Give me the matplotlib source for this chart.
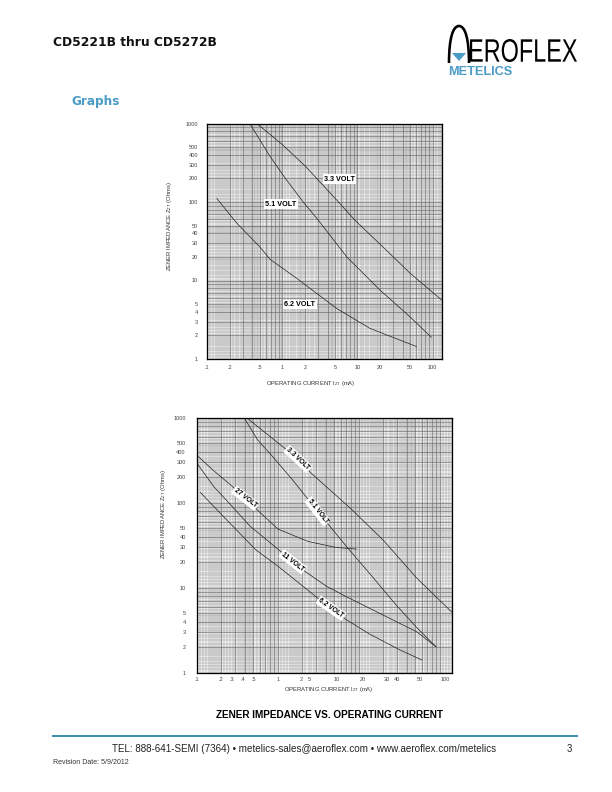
import numpy as np
import matplotlib
matplotlib.use("Agg")
import matplotlib.pyplot as plt
from matplotlib.path import Path
from matplotlib.patches import PathPatch, Polygon
from matplotlib.textpath import TextPath
from matplotlib.font_manager import FontProperties
from matplotlib.transforms import Affine2D
from matplotlib.ticker import NullLocator

# ---- data (current in mA, impedance in ohms) ----
# upper graph
top_33_i = [0.46, 1, 2, 5.6, 9.2, 24, 50, 133]
top_33_z = [1000, 540, 290, 100, 59, 24.5, 12.4, 5.6]
top_51_i = [0.37, 0.69, 1.1, 1.9, 3.0, 7.2, 19.8, 49.7, 96]
top_51_z = [1000, 380, 200, 100, 59, 20, 7.6, 3.46, 1.89]
top_62_i = [0.135, 0.248, 0.5, 0.69, 1.55, 5.3, 14.6, 61]
top_62_z = [111, 54, 27, 18.6, 10.7, 4.4, 2.46, 1.44]

# lower graph
bot_33_i = [0.414, 1.78, 2.58, 7.8, 20, 52, 140]
bot_33_z = [1000, 327, 223, 87, 36.4, 13, 5.2]
bot_51_i = [0.384, 0.566, 0.867, 1.53, 3.11, 6.97, 13.8, 28.8, 51, 90]
bot_51_z = [1000, 547, 348, 185, 79.3, 31, 14.5, 6.3, 3.47, 2.02]
bot_27_i = [0.1, 0.158, 0.254, 0.394, 0.593, 1.01, 2.37, 5.28, 9.33]
bot_27_z = [364, 243, 166, 115, 78, 48.9, 35, 29.7, 28.5]
bot_11_i = [0.1, 0.164, 0.251, 0.455, 1.04, 1.52, 2.23, 3.94, 6.97, 13.8, 27.3, 52, 90]
bot_11_z = [293, 153, 99, 53, 27.7, 19.8, 15.3, 10.5, 7.87, 5.69, 4.11, 3.03, 2.02]
bot_62_i = [0.111, 0.252, 0.539, 1.0, 2.97, 4.55, 6.97, 13.6, 32.4, 60.4]
bot_62_z = [132, 58.5, 27.8, 18, 7.83, 5.73, 4.23, 2.85, 1.85, 1.41]

# tick labels
y_ticks = [1, 2, 3, 4, 5, 10, 20, 30, 40, 50, 100, 200, 300, 400, 500, 1000]
y_labels = ["1", "2", "3", "4", "5", "10", "20", "30", "40", "50",
            "100", "200", "300", "400", "500", "1000"]
top_x_ticks = [0.1, 0.2, 0.5, 1, 2, 5, 10, 20, 50, 100]
top_x_labels = [".1", ".2", ".5", "1", "2", "5", "10", "20", "50", "100"]
# the lower graph paper is labelled oddly, labels sit where they are printed
bot_x_ticks = [0.1, 0.198, 0.27, 0.37, 0.506, 1.0, 1.94, 2.45, 5.35, 11.1, 22.5, 30, 57, 116]
bot_x_labels = [".1", ".2", ".3", ".4", ".5", "1", "2", "5", "10", "20", "30", "40", "50", "100"]

BLUE = "#4a9bc6"
FONT = "Liberation Sans"
W, H = 612, 792

fig = plt.figure(figsize=(W / 72, H / 72), dpi=72)

# page layer in pixel coordinates
page = fig.add_axes([0, 0, 1, 1], zorder=0)
page.set_xlim(0, W)
page.set_ylim(H, 0)
page.axis("off")


def ax_rect(x0, y0, x1, y1):
    return [x0 / W, 1 - y1 / H, (x1 - x0) / W, (y1 - y0) / H]


def paper_values(lo, hi):
    # log graph paper rulings
    minor, major = [], []
    for e in range(lo, hi):
        b = 10.0 ** e
        minor += list(b * np.arange(1, 2, 0.1)) + list(b * np.arange(2, 5, 0.2)) + list(b * np.arange(5, 10, 0.5))
        major += [b * m for m in range(1, 10)]
    return minor, major


def setup(ax, xmax, xticks, xlabels, ylab_pad, xlab_pad):
    ax.set_xscale("log")
    ax.set_yscale("log")
    ax.set_xlim(0.1, xmax)
    ax.set_ylim(1, 1000)
    ax.set_facecolor("#f3f3f3")
    mx, Mx = paper_values(-1, 3)
    my, My = paper_values(0, 3)
    mx = [v for v in mx if v <= xmax]
    Mx = [v for v in Mx if v <= xmax]
    ax.vlines(mx, 1, 1000, colors="#8f8f8f", lw=0.45, zorder=1)
    ax.hlines(my, 0.1, xmax, colors="#8f8f8f", lw=0.45, zorder=1)
    ax.vlines(Mx, 1, 1000, colors="#666666", lw=0.55, zorder=1)
    ax.hlines(My, 0.1, xmax, colors="#666666", lw=0.55, zorder=1)
    ax.set_xticks(xticks, xlabels)
    ax.set_yticks(y_ticks, y_labels)
    ax.xaxis.set_minor_locator(NullLocator())
    ax.yaxis.set_minor_locator(NullLocator())
    ax.tick_params(axis="y", length=0, pad=ylab_pad, labelsize=5.5, labelcolor="#444")
    ax.tick_params(axis="x", length=0, pad=xlab_pad, labelsize=5.5, labelcolor="#444")
    for lab in ax.get_xticklabels() + ax.get_yticklabels():
        lab.set_family(FONT)
    for s in ax.spines.values():
        s.set_linewidth(1.3)
        s.set_color("black")
        s.set_zorder(5)


def curve_label(ax, x, y, s, size, rot=0):
    ax.text(x, y, s, fontsize=size, fontweight="bold", family=FONT,
            ha="center", va="center", rotation=rot, rotation_mode="anchor",
            zorder=6, bbox=dict(fc="white", ec="none", pad=1.2))


# ---- upper graph ----
ax1 = fig.add_axes(ax_rect(207, 123.5, 442, 359), zorder=2)
setup(ax1, 133, top_x_ticks, top_x_labels, 9, 6)
ax1.plot(top_33_i, top_33_z, color="#222", lw=0.7, zorder=3)
ax1.plot(top_51_i, top_51_z, color="#222", lw=0.7, zorder=3)
ax1.plot(top_62_i, top_62_z, color="#222", lw=0.7, zorder=3)
curve_label(ax1, 5.8, 196, "3.3 VOLT", 7.3)
curve_label(ax1, 0.96, 94, "5.1 VOLT", 7.3)
curve_label(ax1, 1.72, 4.9, "6.2 VOLT", 7.3)

# ---- lower graph ----
ax2 = fig.add_axes(ax_rect(196.7, 417.7, 452.3, 672.7), zorder=2)
setup(ax2, 143, bot_x_ticks, bot_x_labels, 11, 4)
for xi, zi in [(bot_33_i, bot_33_z), (bot_51_i, bot_51_z), (bot_27_i, bot_27_z),
               (bot_11_i, bot_11_z), (bot_62_i, bot_62_z)]:
    ax2.plot(xi, zi, color="#222", lw=0.7, zorder=3)
curve_label(ax2, 1.78, 327, "3.3 VOLT", 6.8, -43)
curve_label(ax2, 3.11, 79.3, "5.1 VOLT", 6.8, -52)
curve_label(ax2, 0.398, 113, "27 VOLT", 6.8, -38)
curve_label(ax2, 1.53, 20.2, "11 VOLT", 6.8, -38)
curve_label(ax2, 4.55, 5.73, "6.2 VOLT", 6.8, -35)

# axis titles
page.text(170, 226, r"ZENER IMPEDANCE Z$\mathregular{_{ZT}}$ (Ohms)", rotation=90,
          ha="center", va="center", fontsize=5.9, color="#333", family=FONT)
page.text(311, 383, r"OPERATING CURRENT I$\mathregular{_{ZT}}$ (mA)",
          ha="center", va="center", fontsize=5.9, color="#333", family=FONT)
page.text(164, 514, r"ZENER IMPEDANCE Z$\mathregular{_{ZT}}$ (Ohms)", rotation=90,
          ha="center", va="center", fontsize=5.9, color="#333", family=FONT)
page.text(329, 689, r"OPERATING CURRENT I$\mathregular{_{ZT}}$ (mA)",
          ha="center", va="center", fontsize=5.9, color="#333", family=FONT)
page.text(329, 715, "ZENER IMPEDANCE VS. OPERATING CURRENT", ha="center",
          va="center", fontsize=10, fontweight="bold", family=FONT)

# ---- header ----
page.text(53, 42, "CD5221B thru CD5272B", fontsize=12.2, fontweight="bold",
          va="center", family="DejaVu Sans", color="#111")
page.text(71, 101, "Graphs", fontsize=12, fontweight="bold", va="center",
          family="DejaVu Sans", color=BLUE)

# logo: arch "A", blue triangle, EROFLEX, METELICS
arch = Path([(449, 63), (449, 38), (453, 26), (459, 26),
             (465, 26), (469, 38), (469, 63)],
            [Path.MOVETO, Path.CURVE4, Path.CURVE4, Path.CURVE4,
             Path.CURVE4, Path.CURVE4, Path.CURVE4])
page.add_patch(PathPatch(arch, fc="none", ec="black", lw=2.6))
page.add_patch(Polygon([(452, 53), (466, 53), (459, 61)], closed=True,
                       fc=BLUE, ec="none"))
tp = TextPath((0, 0), "EROFLEX", size=1, prop=FontProperties(family=FONT))
bb = tp.get_extents()
sx = 107 / bb.width
sy = 23 / bb.height
tr = Affine2D().translate(-bb.x0, -bb.y0).scale(sx, -sy).translate(470, 62)
page.add_patch(PathPatch(tr.transform_path(tp), fc="black", ec="none"))
page.text(448, 72, "METELICS", fontsize=12.8, fontweight="bold", va="center",
          family=FONT, color=BLUE)

# ---- footer ----
page.plot([53, 577], [736, 736], color="#3f8fb3", lw=2)
page.text(304, 749, "TEL: 888-641-SEMI (7364) \u2022 metelics-sales@aeroflex.com \u2022 www.aeroflex.com/metelics",
          ha="center", va="center", fontsize=9.9, family=FONT, color="#222")
page.text(569, 749, "3", ha="center", va="center", fontsize=9.5, family=FONT, color="#222")
page.text(53, 763, "Revision Date: 5/9/2012", va="center", fontsize=7,
          family=FONT, color="#333")

fig.savefig("out.png", dpi=72)
